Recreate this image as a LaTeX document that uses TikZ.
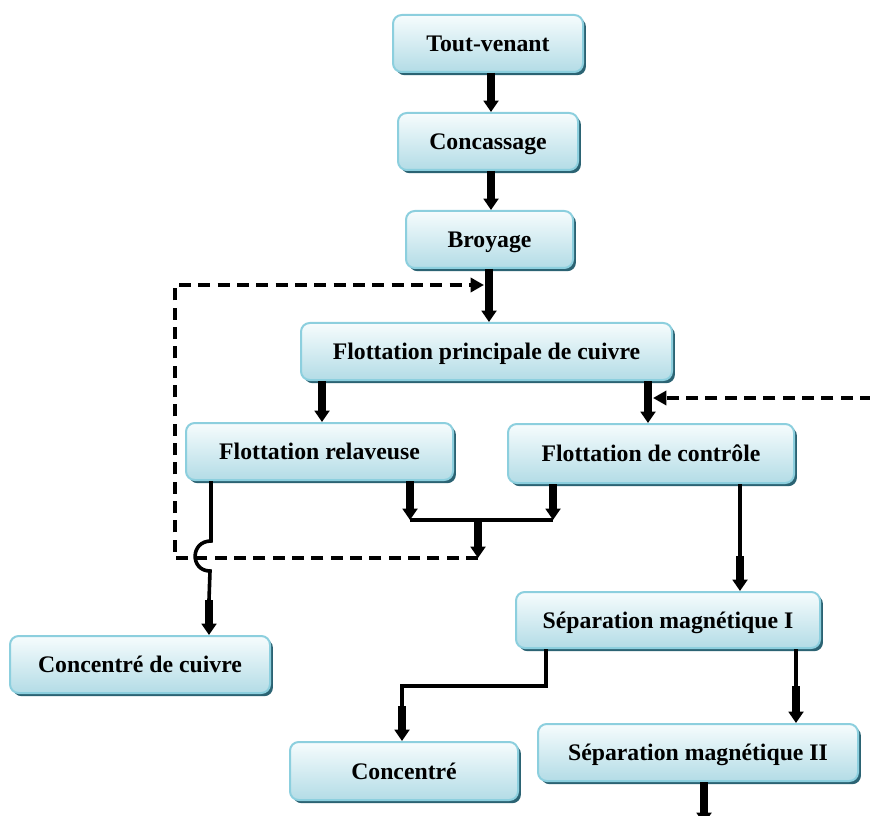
\documentclass[tikz,border=0pt]{standalone}
\usepackage{fontspec}
\setmainfont{Liberation Serif}
\usetikzlibrary{arrows.meta,shadows,calc}
\definecolor{boxedge}{HTML}{8CCFDE}
\definecolor{boxtop}{HTML}{F6FCFD}
\definecolor{boxbot}{HTML}{B3DCE6}
\definecolor{boxshade}{HTML}{2B6373}
\begin{document}
\begin{tikzpicture}[x=0.75pt,y=-0.75pt,
  box/.style={draw=boxedge, line width=1.5pt, rounded corners=6.5pt,
    top color=boxtop, bottom color=boxbot,
    drop shadow={shadow xshift=2.2pt,shadow yshift=-2.4pt,fill=boxshade,opacity=1},
    font=\fontsize{17.8}{20}\selectfont\bfseries, inner sep=0pt, text depth=0pt},
  bw/.style={minimum width=#1*0.75pt},
  bh/.style={minimum height=#1*0.75pt},
  flow/.style={line width=6.2pt, -{Triangle[width=11pt,length=8.5pt]}},
  feed/.style={line width=2.7pt},
  recyc/.style={line width=2.5pt, dash pattern=on 9pt off 5.5pt,
    -{Triangle[width=10.5pt,length=10pt]}}]
\useasboundingbox (0,0) rectangle (870,816);

% process stages
\node[box,bw=190,bh=57] (tv)   at (488,43.5)   {Tout-venant};
\node[box,bw=180,bh=57] (cs)   at (488,141.5)  {Concassage};
\node[box,bw=167,bh=57] (br)   at (489.5,239.5){Broyage};
\node[box,bw=371,bh=57] (fpc)  at (486.5,351.5){Flottation principale de cuivre};
\node[box,bw=267,bh=57] (fr)   at (319.5,451.5){Flottation relaveuse};
\node[box,bw=286,bh=59] (fc)   at (651,453.5)  {Flottation de contrôle};
\node[box,bw=304,bh=56] (smi)  at (668,620)    {Séparation magnétique I};
\node[box,bw=260,bh=57] (cc)   at (140,664.5)  {Concentré de cuivre};
\node[box,bw=228,bh=58] (conc) at (404,771)    {Concentré};
\node[box,bw=320,bh=57] (smii) at (698,752.5)  {Séparation magnétique II};

% helper points
\coordinate (x491) at (491,0);
\coordinate (x489) at (489,0);
\coordinate (x322) at (322,0);
\coordinate (x648) at (648,0);
\coordinate (mL) at (410,520);
\coordinate (mR) at (553,520);
\coordinate (mB) at (478,520);
\coordinate (dj) at (478,558);
\coordinate (lc) at (175,558);
\coordinate (tc) at (175,285);
\coordinate (rin) at (484,285);
\coordinate (rsrc) at (872,398);
\coordinate (rend) at (653,398);
\coordinate (a1) at (211,541);
\coordinate (a2) at (210,571);
\coordinate (a3) at (209,600);
\coordinate (b1) at (740,556);
\coordinate (c1) at (546,686);
\coordinate (c2) at (402,686);
\coordinate (c3) at (402,706);
\coordinate (d1) at (796,686);
\coordinate (e1) at (704,824);

% recycle loops
\draw[recyc] (dj) -- (lc) -- (tc) -- (rin);
\draw[recyc] (rsrc) -- (rend);

% main flow
\draw[flow] (tv.south -| x491) -- (cs.north -| x491);
\draw[flow] (cs.south -| x491) -- (br.north -| x491);
\draw[flow] (br.south -| x489) -- (fpc.north -| x489);
\draw[flow] (fpc.south -| x322) -- (fr.north -| x322);
\draw[flow] (fpc.south -| x648) -- (fc.north -| x648);

% tails merge
\draw[flow] (fr.south -| mL) -- (mL);
\draw[flow] (fc.south -| mR) -- (mR);
\draw[feed] (mL) -- (mR);
\draw[flow] (mB) -- (dj);

% copper concentrate line, jumping over the recycle line
\draw[feed] (fr.south -| a1) -- (a1) .. controls (190,541) and (190,571) .. (a2) -- (a3);
\draw[flow] (a3) -- (cc.north -| a3);

% magnetic separation
\draw[feed] (fc.south -| b1) -- (b1);
\draw[flow] (b1) -- (smi.north -| b1);
\draw[feed] (smi.south -| c1) -- (c1) -- (c2) -- (c3);
\draw[flow] (c3) -- (conc.north -| c3);
\draw[feed] (smi.south -| d1) -- (d1);
\draw[flow] (d1) -- (smii.north -| d1);
\draw[flow] (smii.south -| e1) -- (e1);
\end{tikzpicture}
\end{document}
